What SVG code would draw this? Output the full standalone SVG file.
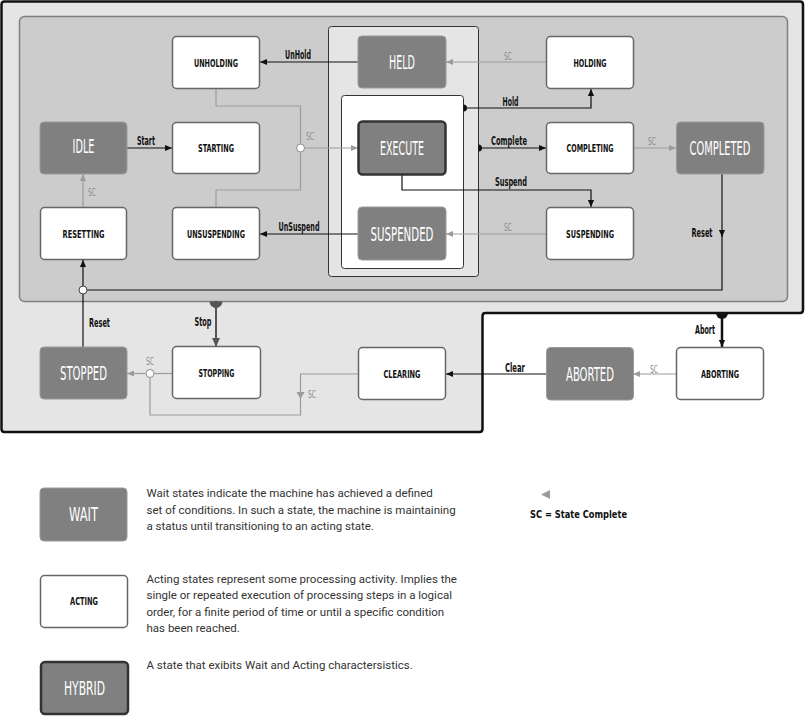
<svg xmlns="http://www.w3.org/2000/svg" width="805" height="716" viewBox="0 0 805 716">
  <style>
    .cond { font-family: "Liberation Sans Narrow", "DejaVu Sans Condensed", "DejaVu Sans", sans-serif; font-stretch: condensed; }
    .wait rect { fill: #808080; stroke: #9a9a9a; stroke-width: 1; }
    .act rect { fill: #ffffff; stroke: #666666; stroke-width: 1.5; }
    .hyb rect { fill: #808080; stroke: #333333; stroke-width: 2.5; }
    .wt { font-size: 19px; fill: #ffffff; text-anchor: middle; }
    .at { font-size: 11px; font-weight: bold; fill: #111111; text-anchor: middle; }
    .lbl { font-size: 12px; font-weight: bold; fill: #111111; text-anchor: middle; }
    .sc { font-size: 10px; fill: #8c8c8c; text-anchor: middle; }
    .blk { fill: none; stroke: #111111; stroke-width: 1.2; }
    .gry { fill: none; stroke: #9c9c9c; stroke-width: 1.2; }
    .desc { font-family: Roboto, "Noto Sans", sans-serif; font-size: 11.5px; fill: #333333; }
  </style>
  <defs>
    <marker id="arrB" viewBox="0 0 8 8" refX="8" refY="4" markerWidth="7" markerHeight="7" markerUnits="userSpaceOnUse" orient="auto">
      <path d="M0,0.5 L8,4 L0,7.5 Z" fill="#111111"/>
    </marker>
    <marker id="arrG" viewBox="0 0 8 8" refX="8" refY="4" markerWidth="7" markerHeight="7" markerUnits="userSpaceOnUse" orient="auto">
      <path d="M0,0.5 L8,4 L0,7.5 Z" fill="#9c9c9c"/>
    </marker>
    <marker id="arrD" viewBox="0 0 8 8" refX="8" refY="4" markerWidth="9" markerHeight="9" markerUnits="userSpaceOnUse" orient="auto">
      <path d="M0,0.5 L8,4 L0,7.5 Z" fill="#555555"/>
    </marker>
  </defs>

  <!-- machine frame: outer stepped outline and inner running region -->
  <g id="frame">
    <path d="M4.5,1.5 H800 Q803,1.5 803,4.5 V310 Q803,313 800,313 H485.5 Q482.5,313 482.5,316 V429 Q482.5,432 479.5,432 H4.5 Q1.5,432 1.5,429 V4.5 Q1.5,1.5 4.5,1.5 Z" fill="#e5e5e5" stroke="#111111" stroke-width="2.5"/>
    <rect x="19.5" y="16.5" width="768" height="285" rx="5" fill="#cccccc" stroke="#808080" stroke-width="1.5"/>
    <rect x="328.5" y="26.5" width="150" height="250" rx="3" fill="#e5e5e5" stroke="#333333" stroke-width="1"/>
    <rect x="341.5" y="95.5" width="122" height="173" rx="3" fill="#ffffff" stroke="#333333" stroke-width="1"/>
  </g>

  <!-- transitions -->
  <g id="connectors">
    <!-- commanded transitions -->
    <path class="blk" d="M358,62 H260" marker-end="url(#arrB)"/>
    <path class="blk" d="M463.5,108 H591 V89" marker-end="url(#arrB)"/>
    <path d="M463.5,104.5 A3.5,3.5 0 0 1 463.5,111.5 Z" fill="#111111"/>
    <path class="blk" d="M478.5,148 H546" marker-end="url(#arrB)"/>
    <path d="M478.5,144.5 A3.5,3.5 0 0 1 478.5,151.5 Z" fill="#111111"/>
    <path class="blk" d="M402,175 V190 H591 V207" marker-end="url(#arrB)"/>
    <path class="blk" d="M358,234 H260" marker-end="url(#arrB)"/>
    <path class="blk" d="M127,148 H172" marker-end="url(#arrB)"/>
    <path class="blk" d="M722,174 V237" marker-end="url(#arrB)"/>
    <path class="blk" d="M722,232 V290 H87"/>
    <path class="blk" d="M83,286 V260" marker-end="url(#arrB)"/>
    <path class="blk" d="M83,347 V294"/>
    <circle cx="83" cy="290" r="4" fill="#ffffff" stroke="#444444" stroke-width="1"/>
    <path class="blk" d="M546,374 H446" marker-end="url(#arrB)"/>
    <path d="M716,313 A6,6 0 0 0 728,313 Z" fill="#111111"/>
    <path d="M722,313 V347" fill="none" stroke="#111111" stroke-width="2.5" marker-end="url(#arrB)"/>
    <path d="M209.5,301.5 A6.5,6.5 0 0 0 222.5,301.5 Z" fill="#555555"/>
    <path d="M216,301 V347" fill="none" stroke="#555555" stroke-width="2" marker-end="url(#arrD)"/>

    <!-- state complete transitions -->
    <path class="gry" d="M546,62 H446" marker-end="url(#arrG)"/>
    <path class="gry" d="M634,148 H676" marker-end="url(#arrG)"/>
    <path class="gry" d="M546,234 H446" marker-end="url(#arrG)"/>
    <path class="gry" d="M216,89 V106 H300.5 V144"/>
    <path class="gry" d="M216,207 V190 H300.5 V152"/>
    <path class="gry" d="M304.5,148 H358" marker-end="url(#arrG)"/>
    <circle cx="300.5" cy="148" r="4" fill="#ffffff" stroke="#8c8c8c" stroke-width="1"/>
    <path class="gry" d="M83,207 V174" marker-end="url(#arrG)"/>
    <path class="gry" d="M172,373.5 H154"/>
    <path class="gry" d="M146,373.5 H127" marker-end="url(#arrG)"/>
    <path class="gry" d="M358,374 H300.5 V415 H150 V377.5"/>
    <path d="M296.5,392 L304.5,392 L300.5,399 Z" fill="#9c9c9c"/>
    <circle cx="150" cy="373.5" r="4" fill="#ffffff" stroke="#8c8c8c" stroke-width="1"/>
    <path class="gry" d="M676,374 H633" marker-end="url(#arrG)"/>

    <!-- transition labels -->
    <text class="cond lbl" x="298" y="59" textLength="26" lengthAdjust="spacingAndGlyphs">UnHold</text>
    <text class="cond lbl" x="146" y="145" textLength="18" lengthAdjust="spacingAndGlyphs">Start</text>
    <text class="cond lbl" x="299" y="231" textLength="41" lengthAdjust="spacingAndGlyphs">UnSuspend</text>
    <text class="cond lbl" x="510.5" y="105.5" textLength="16" lengthAdjust="spacingAndGlyphs">Hold</text>
    <text class="cond lbl" x="509" y="145" textLength="36" lengthAdjust="spacingAndGlyphs">Complete</text>
    <text class="cond lbl" x="511" y="186" textLength="32" lengthAdjust="spacingAndGlyphs">Suspend</text>
    <text class="cond lbl" x="702" y="237" textLength="21" lengthAdjust="spacingAndGlyphs">Reset</text>
    <text class="cond lbl" x="99.5" y="326.5" textLength="21" lengthAdjust="spacingAndGlyphs">Reset</text>
    <text class="cond lbl" x="203" y="326" textLength="17" lengthAdjust="spacingAndGlyphs">Stop</text>
    <text class="cond lbl" x="515" y="371.5" textLength="20" lengthAdjust="spacingAndGlyphs">Clear</text>
    <text class="cond lbl" x="705" y="333.5" textLength="20" lengthAdjust="spacingAndGlyphs">Abort</text>
    <text class="cond sc" x="508" y="59.5" textLength="8" lengthAdjust="spacingAndGlyphs">SC</text>
    <text class="cond sc" x="652" y="144.5" textLength="8" lengthAdjust="spacingAndGlyphs">SC</text>
    <text class="cond sc" x="508" y="230.5" textLength="8" lengthAdjust="spacingAndGlyphs">SC</text>
    <text class="cond sc" x="310" y="139.5" textLength="8" lengthAdjust="spacingAndGlyphs">SC</text>
    <text class="cond sc" x="92" y="195.5" textLength="8" lengthAdjust="spacingAndGlyphs">SC</text>
    <text class="cond sc" x="150" y="365" textLength="8" lengthAdjust="spacingAndGlyphs">SC</text>
    <text class="cond sc" x="312" y="398" textLength="8" lengthAdjust="spacingAndGlyphs">SC</text>
    <text class="cond sc" x="654" y="372.5" textLength="8" lengthAdjust="spacingAndGlyphs">SC</text>
  </g>

  <!-- states -->
  <g id="unholding" class="act"><rect x="172.5" y="36.5" width="87" height="52" rx="4"/><text class="cond at" x="216" y="66.5" textLength="44" lengthAdjust="spacingAndGlyphs">UNHOLDING</text></g>
  <g id="starting" class="act"><rect x="172.5" y="122.5" width="87" height="51" rx="4"/><text class="cond at" x="216" y="152" textLength="36" lengthAdjust="spacingAndGlyphs">STARTING</text></g>
  <g id="unsuspending" class="act"><rect x="172.5" y="207.5" width="87" height="52" rx="4"/><text class="cond at" x="216" y="237.5" textLength="58" lengthAdjust="spacingAndGlyphs">UNSUSPENDING</text></g>
  <g id="idle" class="wait"><rect x="40" y="122" width="87" height="52" rx="4"/><text class="cond wt" x="83.5" y="153" textLength="22" lengthAdjust="spacingAndGlyphs">IDLE</text></g>
  <g id="resetting" class="act"><rect x="40.5" y="207.5" width="86" height="52" rx="4"/><text class="cond at" x="83.5" y="237.5" textLength="42" lengthAdjust="spacingAndGlyphs">RESETTING</text></g>
  <g id="held" class="wait"><rect x="358" y="36" width="88" height="52" rx="4"/><text class="cond wt" x="402" y="69" textLength="26" lengthAdjust="spacingAndGlyphs">HELD</text></g>
  <g id="execute" class="hyb"><rect x="358.5" y="121.5" width="87" height="53" rx="4"/><text class="cond wt" x="402" y="155" textLength="44" lengthAdjust="spacingAndGlyphs">EXECUTE</text></g>
  <g id="suspended" class="wait"><rect x="358" y="207" width="88" height="53" rx="4"/><text class="cond wt" x="402" y="240.5" textLength="63" lengthAdjust="spacingAndGlyphs">SUSPENDED</text></g>
  <g id="holding" class="act"><rect x="546.5" y="36.5" width="87" height="52" rx="4"/><text class="cond at" x="590" y="66.5" textLength="33" lengthAdjust="spacingAndGlyphs">HOLDING</text></g>
  <g id="completing" class="act"><rect x="546.5" y="122.5" width="87" height="51" rx="4"/><text class="cond at" x="590" y="152" textLength="47" lengthAdjust="spacingAndGlyphs">COMPLETING</text></g>
  <g id="suspending" class="act"><rect x="546.5" y="207.5" width="87" height="52" rx="4"/><text class="cond at" x="590" y="237.5" textLength="48" lengthAdjust="spacingAndGlyphs">SUSPENDING</text></g>
  <g id="completed" class="wait"><rect x="676.5" y="122" width="87.5" height="52" rx="4"/><text class="cond wt" x="720" y="155" textLength="61" lengthAdjust="spacingAndGlyphs">COMPLETED</text></g>
  <g id="stopped" class="wait"><rect x="40" y="347" width="87" height="52" rx="4"/><text class="cond wt" x="83.5" y="380" textLength="47" lengthAdjust="spacingAndGlyphs">STOPPED</text></g>
  <g id="stopping" class="act"><rect x="172.5" y="346.5" width="88" height="52" rx="4"/><text class="cond at" x="216.5" y="377" textLength="36" lengthAdjust="spacingAndGlyphs">STOPPING</text></g>
  <g id="clearing" class="act"><rect x="358.5" y="347.5" width="87" height="52" rx="4"/><text class="cond at" x="402" y="378" textLength="37" lengthAdjust="spacingAndGlyphs">CLEARING</text></g>
  <g id="aborted" class="wait"><rect x="546.5" y="347.5" width="87" height="52.5" rx="4"/><text class="cond wt" x="590" y="381" textLength="48" lengthAdjust="spacingAndGlyphs">ABORTED</text></g>
  <g id="aborting" class="act"><rect x="676.5" y="347.5" width="87" height="52" rx="4"/><text class="cond at" x="720" y="378" textLength="38" lengthAdjust="spacingAndGlyphs">ABORTING</text></g>

  <!-- key -->
  <g id="legend-wait" class="wait">
    <rect x="40" y="488" width="87" height="53" rx="4"/>
    <text class="cond wt" x="83.5" y="521" textLength="29" lengthAdjust="spacingAndGlyphs">WAIT</text>
    <text class="desc" x="146.5" y="497">Wait states indicate the machine has achieved a defined</text>
    <text class="desc" x="146.5" y="514">set of conditions. In such a state, the machine is maintaining</text>
    <text class="desc" x="146.5" y="530">a status until transitioning to an acting state.</text>
  </g>
  <g id="legend-acting" class="act">
    <rect x="40.5" y="575.5" width="87" height="52" rx="4"/>
    <text class="cond at" x="84" y="605" textLength="28" lengthAdjust="spacingAndGlyphs">ACTING</text>
    <text class="desc" x="146.5" y="583">Acting states represent some processing activity. Implies the</text>
    <text class="desc" x="146.5" y="599">single or repeated execution of processing steps in a logical</text>
    <text class="desc" x="146.5" y="615.5">order, for a finite period of time or until a specific condition</text>
    <text class="desc" x="146.5" y="632">has been reached.</text>
  </g>
  <g id="legend-hybrid" class="hyb">
    <rect x="41" y="662" width="87" height="52" rx="4"/>
    <text class="cond wt" x="84.5" y="695" textLength="41" lengthAdjust="spacingAndGlyphs">HYBRID</text>
    <text class="desc" x="146.5" y="669">A state that exibits Wait and Acting charactersistics.</text>
  </g>
  <g id="legend-sc">
    <path d="M550,490 L550,499 L541,494.5 Z" fill="#9c9c9c"/>
    <text class="cond lbl" x="530" y="518" textLength="97" lengthAdjust="spacingAndGlyphs" style="text-anchor:start;font-size:11px">SC = State Complete</text>
  </g>
</svg>
